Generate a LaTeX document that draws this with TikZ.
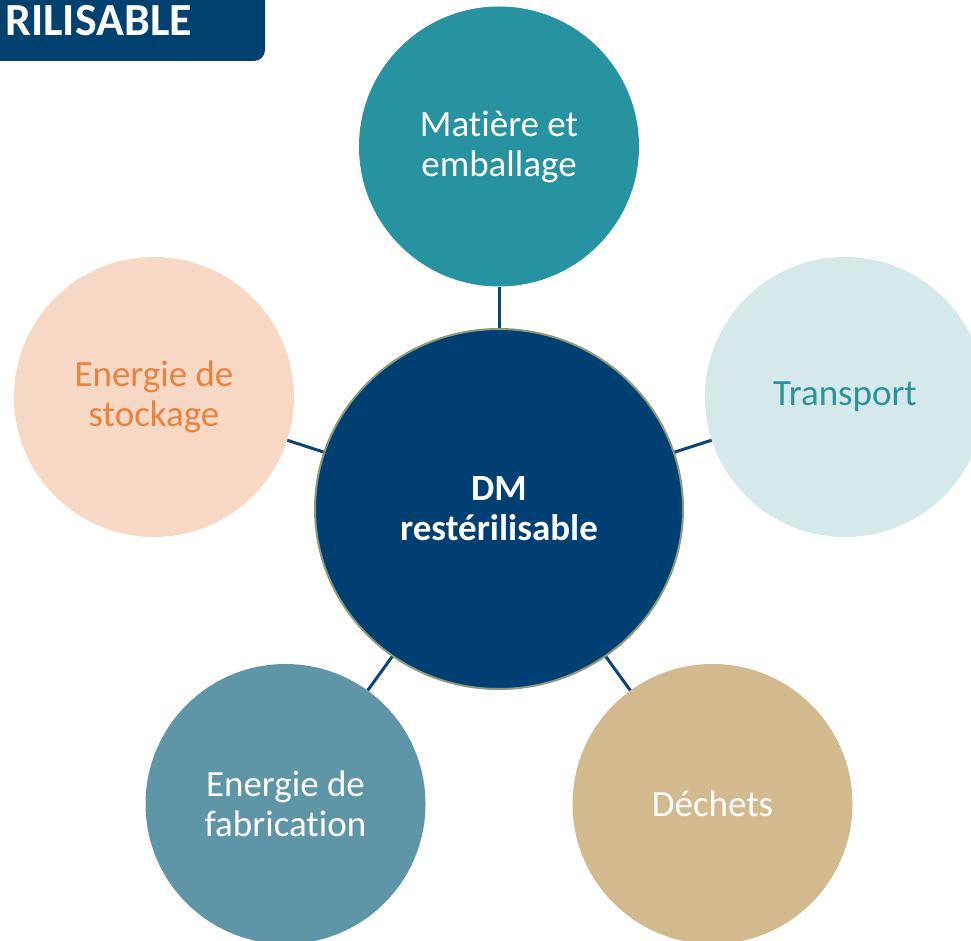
\documentclass[tikz,border=0pt]{standalone}
\usepackage{fontspec}
\setmainfont[Ligatures=NoCommon]{Carlito}
\usetikzlibrary{shapes.geometric}
\definecolor{bannerblue}{HTML}{00416F}
\definecolor{coreblue}{HTML}{003F72}
\definecolor{coreedge}{HTML}{8C9A78}
\definecolor{linkblue}{HTML}{0B4577}
\definecolor{tealfill}{HTML}{2793A0}
\definecolor{palefill}{HTML}{D5E9EA}
\definecolor{tealtext}{HTML}{2A939E}
\definecolor{peachfill}{HTML}{F7D8C4}
\definecolor{orangetext}{HTML}{E8823D}
\definecolor{slatefill}{HTML}{5E96A7}
\definecolor{sandfill}{HTML}{D2B98E}
\tikzset{
  outer/.style={circle, minimum size=280pt, inner sep=0pt, align=center,
    font=\fontsize{37}{40}\selectfont},
  core/.style={ellipse, minimum width=368pt, minimum height=360pt, inner sep=0pt,
    align=center, fill=coreblue, draw=coreedge, line width=2pt, text=white,
    font=\fontsize{37}{40}\selectfont\bfseries},
  link/.style={draw=linkblue, line width=3pt}
}
\begin{document}
\begin{tikzpicture}[x=1pt,y=-1pt]
\useasboundingbox (0,0) rectangle (971,941);
% banner
\fill[bannerblue, rounded corners=11pt] (-30,-30) rectangle (265,61);
\node[anchor=base west, inner sep=0pt, text=white, font=\fontsize{46}{50}\selectfont\bfseries] (banner) at (5,35.5) {RILISABLE};
% nodes
\node[core] (dm) at (499,509) {DM\\restérilisable};
\node[outer, fill=tealfill, text=white] (mat) at (499,146.5) {Matière et\\emballage};
\node[outer, fill=palefill, text=tealtext] (tra) at (845,397) {Transport};
\node[outer, fill=peachfill, text=orangetext] (sto) at (154,397) {Energie de\\stockage};
\node[outer, fill=slatefill, text=white] (fab) at (285.5,804) {Energie de\\fabrication};
\node[outer, fill=sandfill, text=white] (dec) at (712.5,804) {Déchets};
% connectors
\draw[link] (dm) -- (mat);
\draw[link] (dm) -- (tra);
\draw[link] (dm) -- (sto);
\draw[link] (dm) -- (fab);
\draw[link] (dm) -- (dec);
\end{tikzpicture}
\end{document}
